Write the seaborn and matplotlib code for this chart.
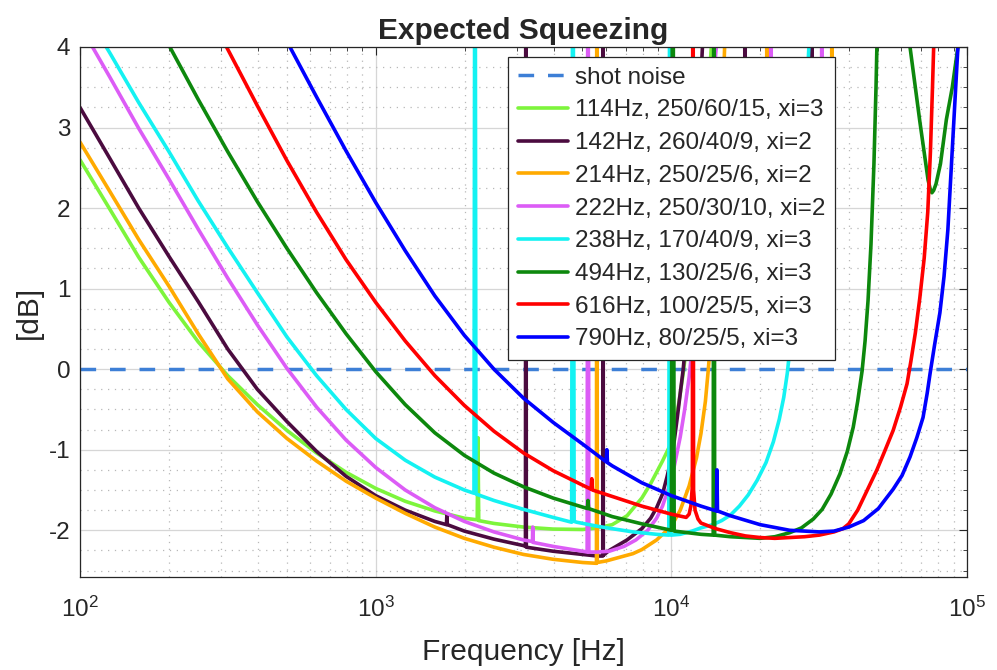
import numpy as np
import pandas as pd
import matplotlib
matplotlib.use("Agg")
import matplotlib.pyplot as plt
import seaborn as sns
from matplotlib.ticker import LogLocator, MultipleLocator, FixedLocator

# values (frequency in Hz, level in dB)
shot_f = [100, 100000]
shot_db = [0, 0]

lg_f = [100, 126, 158, 200, 251, 316, 398, 501, 631, 794, 1000, 1259, 1585, 1995, 2205, 2218, 2231, 2512, 3162,
        3981, 5012, 5623, 6310, 7079, 7943, 8511, 8913, 9333, 9886, 10233, 10593, 10965, 11482, 12023, 12589, 13183,
        13646, 14500]
lg_db = [2.60, 1.99, 1.39, 0.83, 0.34, -0.08, -0.44, -0.76, -1.04, -1.28, -1.48, -1.64, -1.76, -1.85, -1.87, -0.85,
         -1.88, -1.915, -1.96, -1.985, -1.99, -1.97, -1.93, -1.82, -1.60, -1.42, -1.28, -1.14, -0.95, -0.72, -0.42,
         -0.05, 0.55, 1.3, 2.2, 3.1, 4.0, 5.8]

dp_f = [100, 126, 158, 200, 251, 316, 398, 501, 631, 794, 1000, 1259, 1585, 1735, 1741, 1747, 1995, 2512, 3162,
        3210, 3221, 3232, 3981, 5012, 5623, 5860, 5873, 5886, 6166, 7079, 7943, 8511, 8913, 9333, 9661, 10000,
        10233, 10471, 10715, 10965, 11350, 11749, 12162, 12589, 12735, 13490, 17650, 17740, 17830, 29700, 29850,
        30000, 40000]
dp_db = [3.25, 2.62, 2.00, 1.40, 0.84, 0.25, -0.25, -0.65, -1.02, -1.33, -1.57, -1.75, -1.89, -1.93, -1.81, -1.93,
         -2.01, -2.11, -2.19, -2.20, 8, -2.21, -2.26, -2.30, -2.32, -2.32, 8, -2.31, -2.25, -2.12, -1.98, -1.85,
         -1.72, -1.55, -1.34, -1.10, -0.88, -0.60, -0.30, 0.00, 0.60, 1.40, 2.40, 3.60, 4.00, 6.50, 7, 2.5, 7, 7,
         2.5, 7, 8]

or_f = [100, 126, 158, 200, 251, 316, 398, 501, 631, 794, 1000, 1259, 1585, 1995, 2512, 3162, 3981, 5012, 5580,
        5598, 5616, 6026, 6607, 7413, 7943, 8913, 10000, 10715, 11482, 12162, 12589, 13032, 13335, 13804, 14289,
        14791, 15136, 15849, 20950, 21040, 21130, 34750, 34900, 35050, 45000]
or_db = [2.82, 2.21, 1.61, 1.03, 0.44, -0.12, -0.53, -0.86, -1.14, -1.39, -1.60, -1.79, -1.96, -2.10, -2.21, -2.30,
         -2.36, -2.40, -2.41, 8, -2.40, -2.38, -2.34, -2.29, -2.24, -2.12, -1.95, -1.75, -1.45, -1.10, -0.80, -0.40,
         0.00, 0.70, 1.60, 2.80, 4.00, 6.0, 7, 2.5, 7, 7, 2.5, 7, 8]

mg_f = [100, 126, 158, 200, 251, 316, 398, 501, 631, 794, 1000, 1259, 1585, 1995, 2512, 3162, 3390, 3397, 3404,
        3981, 5012, 5190, 5224, 5258, 5623, 6166, 6918, 7586, 8318, 8913, 9333, 9772, 10233, 10715, 11092, 11482,
        11749, 12303, 12882, 13490, 14190, 15000, 21600, 21720, 21840, 32100, 32280, 32460, 45000]
mg_db = [4.27, 3.63, 2.99, 2.36, 1.74, 1.13, 0.55, 0.01, -0.47, -0.88, -1.22, -1.50, -1.72, -1.89, -2.02, -2.12,
         -2.14, -1.96, -2.15, -2.20, -2.26, -2.27, 8, -2.27, -2.27, -2.26, -2.20, -2.12, -2.00, -1.85, -1.70, -1.48,
         -1.20, -0.84, -0.50, -0.10, 0.25, 1.20, 2.30, 3.10, 4.00, 5.5, 7, 2.5, 7, 7, 2.5, 7, 8]

cy_f = [112, 126, 158, 200, 251, 316, 398, 501, 631, 794, 1000, 1259, 1585, 1995, 2150, 2167, 2184, 2512, 3162,
        3981, 4600, 4645, 4690, 4786, 5623, 6310, 7413, 8913, 9800, 9887, 9975, 10715, 11749, 12589, 13804, 14791,
        15849, 16982, 18197, 19498, 20893, 22131, 23174, 23988, 24660, 25410, 26303, 27227, 28184, 28840, 29170,
        30200]
cy_db = [4.24, 3.93, 3.31, 2.70, 2.09, 1.51, 0.95, 0.40, -0.08, -0.50, -0.86, -1.13, -1.34, -1.50, -1.54, 8, -1.55,
         -1.63, -1.74, -1.84, -1.90, 8, -1.89, -1.90, -1.95, -1.98, -2.02, -2.05, -2.06, 8, -2.06, -2.05, -2.01,
         -1.97, -1.93, -1.88, -1.81, -1.70, -1.56, -1.38, -1.16, -0.90, -0.62, -0.35, -0.05, 0.40, 1.00, 1.80, 2.80,
         3.60, 4.00, 5.5]

gr_f = [200, 251, 316, 398, 501, 631, 794, 1000, 1259, 1585, 1995, 2512, 3162, 3981, 5200, 5224, 5248, 6310, 7943,
        10000, 10110, 10220, 12589, 13850, 13930, 14010, 15849, 19953, 22387, 25119, 27542, 30200, 32359, 34674,
        37154, 39355, 41210, 42658, 44157, 45186, 46238, 47315, 48417, 49204, 49545, 52481, 64120, 69183, 73790,
        74990, 76030, 77090, 78520, 81280, 85110, 89130, 93110, 100000]
gr_db = [4.02, 3.35, 2.70, 2.08, 1.50, 0.95, 0.44, -0.03, -0.44, -0.79, -1.07, -1.29, -1.46, -1.60, -1.73, -1.63,
         -1.73, -1.83, -1.92, -2.00, 8, -2.01, -2.05, -2.06, 8, -2.06, -2.08, -2.10, -2.08, -2.03, -1.97, -1.86,
         -1.74, -1.55, -1.30, -1.02, -0.72, -0.40, -0.02, 0.35, 0.85, 1.55, 2.55, 3.50, 4.00, 7, 4.00, 3.08, 2.35,
         2.24, 2.19, 2.22, 2.30, 2.55, 3.1, 3.5, 4.0, 5.5]

rd_f = [310, 398, 501, 631, 794, 1000, 1259, 1585, 1995, 2512, 3162, 3981, 5012, 5350, 5380, 5410, 6310, 7943,
        10000, 11220, 11482, 11640, 11776, 11830, 11885, 12023, 12303, 12589, 14125, 15849, 17783, 19953, 22387,
        25119, 28184, 31623, 35481, 38019, 39811, 42658, 45709, 49545, 52481, 56234, 59566, 62661, 64565, 66834,
        69183, 71614, 73621, 75162, 76384, 77090, 79430]
rd_db = [4.03, 3.27, 2.59, 1.95, 1.36, 0.83, 0.35, -0.08, -0.45, -0.77, -1.04, -1.26, -1.44, -1.49, -1.36, -1.50,
         -1.58, -1.70, -1.80, -1.84, -1.80, -1.70, -1.45, 8, -1.50, -1.75, -1.86, -1.91, -1.98, -2.03, -2.07, -2.09,
         -2.10, -2.09, -2.08, -2.06, -2.02, -1.98, -1.92, -1.75, -1.52, -1.25, -1.03, -0.76, -0.47, -0.18, 0.10,
         0.45, 0.88, 1.38, 1.95, 2.7, 3.5, 4.0, 5.5]

bl_f = [501, 631, 794, 1000, 1259, 1585, 1995, 2512, 3162, 3981, 5012, 6020, 6050, 6080, 6310, 7943, 10000, 12589,
        14200, 14260, 14320, 15849, 19953, 25119, 31623, 35481, 39811, 44668, 50119, 56234, 60256, 64121, 67608,
        70958, 73282, 74989, 77625, 80910, 83560, 86099, 88716, 91201, 93111, 97724]
bl_db = [4.07, 3.38, 2.71, 2.07, 1.47, 0.91, 0.42, 0.00, -0.36, -0.66, -0.93, -1.15, -1.00, -1.16, -1.20, -1.41,
         -1.57, -1.70, -1.76, -1.25, -1.76, -1.82, -1.93, -2.00, -2.02, -2.01, -1.96, -1.88, -1.73, -1.49, -1.32,
         -1.09, -0.85, -0.60, -0.30, -0.05, 0.30, 0.70, 1.15, 1.73, 2.6, 3.4, 4.0, 5.5]

labels = ["114Hz, 250/60/15, xi=3", "142Hz, 260/40/9, xi=2", "214Hz, 250/25/6, xi=2",
          "222Hz, 250/30/10, xi=2", "238Hz, 170/40/9, xi=3", "494Hz, 130/25/6, xi=3",
          "616Hz, 100/25/5, xi=3", "790Hz, 80/25/5, xi=3"]
colors = ["#7df53c", "#4b0b3f", "#ffaa00", "#dc5cf6", "#14f2f2", "#0d880d", "#ff0000", "#0000ff"]
curves = [(lg_f, lg_db), (dp_f, dp_db), (or_f, or_db), (mg_f, mg_db),
          (cy_f, cy_db), (gr_f, gr_db), (rd_f, rd_db), (bl_f, bl_db)]

sns.set_theme(style="white")
plt.rcParams["font.family"] = ["Liberation Sans", "DejaVu Sans"]
plt.rcParams["mathtext.default"] = "regular"
plt.rcParams["axes.unicode_minus"] = False

fig = plt.figure(figsize=(9.97, 6.70), dpi=100)
ax = fig.add_axes([0.0802, 0.1388, 0.970 - 0.0802, 0.9299 - 0.1388])

# shot noise reference
sns.lineplot(x=shot_f, y=shot_db, ax=ax, color="#3d7fd6", linewidth=2.5,
             label="shot noise", estimator=None, sort=False)
ax.lines[-1].set_dashes((4.5, 4.0))

for (f, db), lbl, c in zip(curves, labels, colors):
    df = pd.DataFrame({"f": f, "dB": db})
    sns.lineplot(data=df, x="f", y="dB", ax=ax, color=c, linewidth=2.6,
                 label=lbl, estimator=None, sort=False)

ax.set_xscale("log")
ax.set_xlim(100, 1e5)
ax.set_ylim(-2.58, 4)
ax.xaxis.set_major_locator(FixedLocator([1e2, 1e3, 1e4, 1e5]))
ax.xaxis.set_minor_locator(LogLocator(base=10, subs=np.arange(2, 10), numticks=20))
ax.yaxis.set_major_locator(MultipleLocator(1))
ax.yaxis.set_minor_locator(MultipleLocator(0.25))

ax.set_axisbelow(True)
ax.grid(which="major", color="#d6d6d6", linestyle="-", linewidth=0.9)
ax.grid(which="minor", color="#b8b8b8", linestyle=(0, (1, 4.5)), linewidth=0.9)

ax.tick_params(which="both", direction="in", top=True, right=True, colors="#262626")
ax.tick_params(which="major", length=6, width=0.8, labelsize=17.5)
ax.tick_params(axis="x", which="major", pad=14)
ax.tick_params(axis="y", which="major", pad=7)
ax.tick_params(which="minor", length=3, width=0.6)
for s in ax.spines.values():
    s.set_color("#262626")
    s.set_linewidth(0.9)

ax.set_title("Expected Squeezing", fontsize=21.5, fontweight="bold", pad=6)
ax.set_xlabel("Frequency [Hz]", fontsize=21.5, labelpad=12)
ax.set_ylabel("[dB]", fontsize=21.5, labelpad=4)

leg = ax.legend(loc="upper left", bbox_to_anchor=(0.4825, 0.981), borderaxespad=0,
                fontsize=17.5, frameon=True, fancybox=False, framealpha=1,
                edgecolor="#262626", handlelength=2.05, handletextpad=0.3,
                labelspacing=0.44, borderpad=0.4)
leg.get_frame().set_linewidth(0.9)

fig.savefig("out.png", dpi=100)
